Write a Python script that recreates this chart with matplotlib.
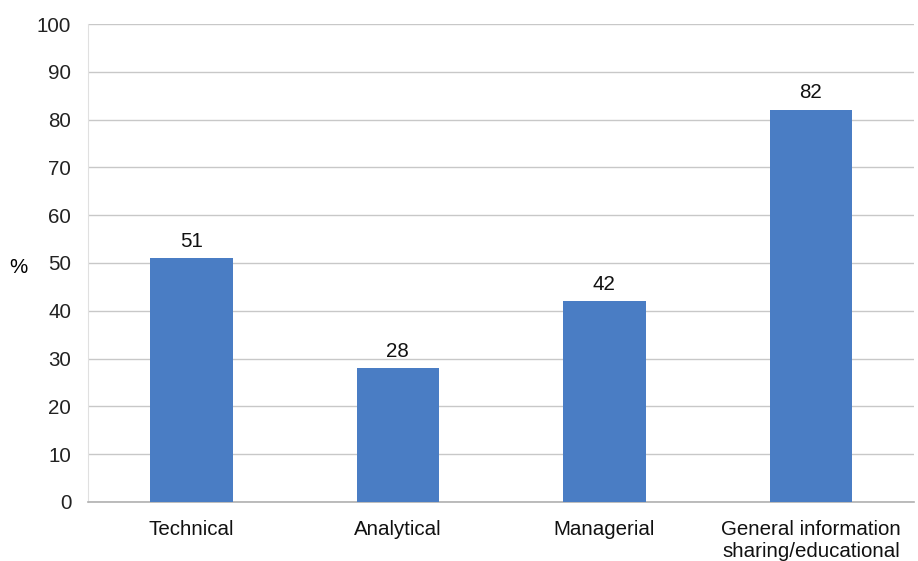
import matplotlib
matplotlib.use("Agg")
import matplotlib.pyplot as plt
import numpy as np

categories = ["Technical", "Analytical", "Managerial", "General information\nsharing/educational"]
values = [51, 28, 42, 82]
yticks = [0, 10, 20, 30, 40, 50, 60, 70, 80, 90, 100]

plt.rcParams['font.family'] = ['Liberation Sans', 'DejaVu Sans']
FS = 14.8

fig = plt.figure(figsize=(9.18, 5.61), dpi=100)
ax = fig.add_axes([0.0959, 0.1052, 0.8999, 0.8520])

x = np.arange(len(categories))
ax.bar(x, values, width=0.4, color="#4a7dc4", zorder=3)
for xi, v in zip(x, values):
    ax.text(xi, v + 1.6, f"{v}", ha="center", va="bottom", fontsize=FS, color="#111111")

ax.set_xlim(-0.5, len(categories) - 0.5)
ax.set_ylim(0, 100)
ax.set_yticks(yticks)
ax.set_yticklabels([str(t) for t in yticks], fontsize=FS, color="#222222")
ax.set_xticks(x)
ax.set_xticklabels(categories, fontsize=FS, color="#111111", linespacing=1.2)
ax.tick_params(axis="y", length=0, pad=12)
ax.tick_params(axis="x", length=0, pad=13)
ax.grid(axis="y", color="#c8c8c8", linewidth=1, zorder=0)
for s in ["top", "right"]:
    ax.spines[s].set_visible(False)
ax.spines["left"].set_color("#e0e0e0")
ax.spines["left"].set_linewidth(0.8)
ax.spines["bottom"].set_color("#b0b0b0")
ax.spines["bottom"].set_linewidth(1.2)
ax.set_ylabel("%", rotation=0, fontsize=FS, va="center", ha="center")
ax.yaxis.set_label_coords(-0.084, 0.49)

fig.savefig("out.png", dpi=100)
